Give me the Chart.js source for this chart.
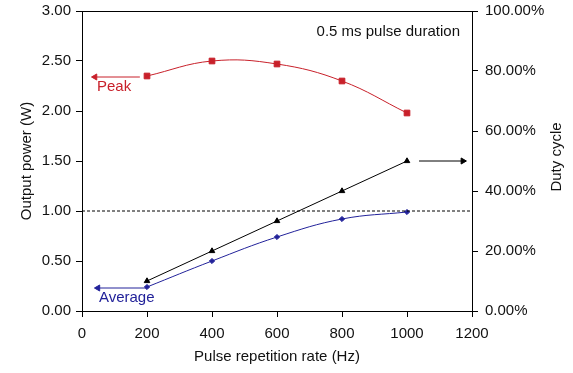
<!DOCTYPE html>
<html>
<head>
<meta charset="utf-8">
<script src="https://cdn.jsdelivr.net/npm/chart.js@4"></script>
<style>
 html,body{margin:0;padding:0;background:#fff;}
 #wrap{position:relative;width:573px;height:373px;}
</style>
</head>
<body>
<div id="wrap"><canvas id="chartID" width="573" height="373"></canvas></div>
<script>
// pulse repetition rate (Hz)
var rates=[200,400,600,800,1000];
// output power (W)
var peakPower=[2.35,2.50,2.47,2.30,1.98];
var avgPower=[0.24,0.50,0.74,0.92,0.99];
// duty cycle (%)
var dutyCycle=[10,20,30,40,50];
// arrows pointing to the axes [from, to]
var peakArrowX=[178,40], peakArrowY=[2.34,2.34];
var avgArrowX=[200,49], avgArrowY=[0.23,0.23];
var dutyArrowX=[1037,1172], dutyArrowY=[50,50];
var refLineX=[0,1200], refLineY=[1,1];
var xTicks=[0,200,400,600,800,1000,1200];
var leftTicks=[0,0.5,1,1.5,2,2.5,3];
var rightTicks=[0,20,40,60,80,100];

var FONT="'Liberation Sans', Arial, sans-serif";
var RED='#c8202a', BLUE='#22229a';

function pts(xs,ys){var a=[];for(var i=0;i<xs.length;i++){a.push({x:xs[i],y:ys[i]});}return a;}
function arrow(xs,ys,col,rot,axis){
 return {data:pts(xs,ys),yAxisID:axis,borderColor:col,backgroundColor:col,borderWidth:1,
  pointStyle:'triangle',rotation:rot,pointRadius:[0,3.5],pointHoverRadius:0,tension:0};
}
function fixTicks(list){return function(s){s.ticks=list.map(function(v){return {value:v};});};}
function fitV(w){return function(s){s.width=w; s.paddingTop=0; s.paddingBottom=0;};}

var extras={
 id:'extras',
 afterDraw:function(chart){
  var c=chart.ctx, a=chart.chartArea, x=chart.scales.x, y=chart.scales.y;
  c.save();
  // top frame line
  c.strokeStyle='#000'; c.lineWidth=1;
  c.beginPath(); c.moveTo(a.left,a.top+0.5); c.lineTo(a.right,a.top+0.5); c.stroke();
  c.font='15px '+FONT; c.textBaseline='middle';
  c.fillStyle='#111'; c.textAlign='right';
  c.fillText('0.5 ms pulse duration',x.getPixelForValue(1163),y.getPixelForValue(2.79));
  c.textAlign='left';
  c.fillStyle=RED; c.fillText('Peak',x.getPixelForValue(46),y.getPixelForValue(2.24));
  c.fillStyle=BLUE; c.fillText('Average',x.getPixelForValue(52),y.getPixelForValue(0.13));
  // right axis title, reads bottom to top
  c.fillStyle='#111'; c.textAlign='center';
  c.translate(557,y.getPixelForValue(1.54)); c.rotate(-Math.PI/2);
  c.fillText('Duty cycle',0,0);
  c.restore();
 }
};

new Chart(document.getElementById('chartID').getContext('2d'),{
 type:'line',
 data:{datasets:[
  {data:pts(refLineX,refLineY),borderColor:'#000',borderWidth:1,borderDash:[3,2],pointRadius:0},
  {data:pts(rates,peakPower),borderColor:RED,backgroundColor:RED,borderWidth:1,
   pointStyle:'rect',pointRadius:4,tension:0.4},
  {data:pts(rates,avgPower),borderColor:BLUE,backgroundColor:BLUE,borderWidth:1,
   pointStyle:'rectRot',pointRadius:2.6,tension:0.4},
  {data:pts(rates,dutyCycle),yAxisID:'y2',borderColor:'#000',backgroundColor:'#000',borderWidth:1,
   pointStyle:'triangle',pointRadius:3.2,tension:0},
  arrow(peakArrowX,peakArrowY,RED,-90,'y'),
  arrow(avgArrowX,avgArrowY,BLUE,-90,'y'),
  arrow(dutyArrowX,dutyArrowY,'#000',90,'y2')
 ]},
 options:{
  responsive:false,animation:false,
  layout:{padding:{top:11,left:0,right:0,bottom:0}},
  plugins:{legend:{display:false},tooltip:{enabled:false}},
  scales:{
   x:{type:'linear',min:0,max:1200,
    afterFit:function(s){s.height=62; s.paddingLeft=0; s.paddingRight=0;},
    afterBuildTicks:fixTicks(xTicks),
    grid:{drawOnChartArea:false,tickLength:6,color:'#000'},
    border:{color:'#000'},
    ticks:{color:'#111',font:{family:FONT,size:15},padding:8,callback:function(v){return String(v);}},
    title:{display:true,text:'Pulse repetition rate (Hz)',color:'#111',font:{family:FONT,size:15},padding:{top:0,bottom:7}}},
   y:{min:0,max:3,position:'left',
    afterFit:fitV(82),
    afterBuildTicks:fixTicks(leftTicks),
    grid:{drawOnChartArea:false,tickLength:6,color:'#000'},
    border:{color:'#000'},
    ticks:{color:'#111',font:{family:FONT,size:15},padding:5,callback:function(v){return v.toFixed(2);}},
    title:{display:true,text:'Output power (W)',color:'#111',font:{family:FONT,size:15},padding:{top:18,bottom:0}}},
   y2:{min:0,max:100,position:'right',
    afterFit:fitV(101),
    afterBuildTicks:fixTicks(rightTicks),
    grid:{drawOnChartArea:false,tickLength:6,color:'#000'},
    border:{color:'#000'},
    ticks:{color:'#111',font:{family:FONT,size:15},padding:7,callback:function(v){return v.toFixed(2)+'%';}}}
  }
 },
 plugins:[extras]
});
</script>
</body>
</html>
